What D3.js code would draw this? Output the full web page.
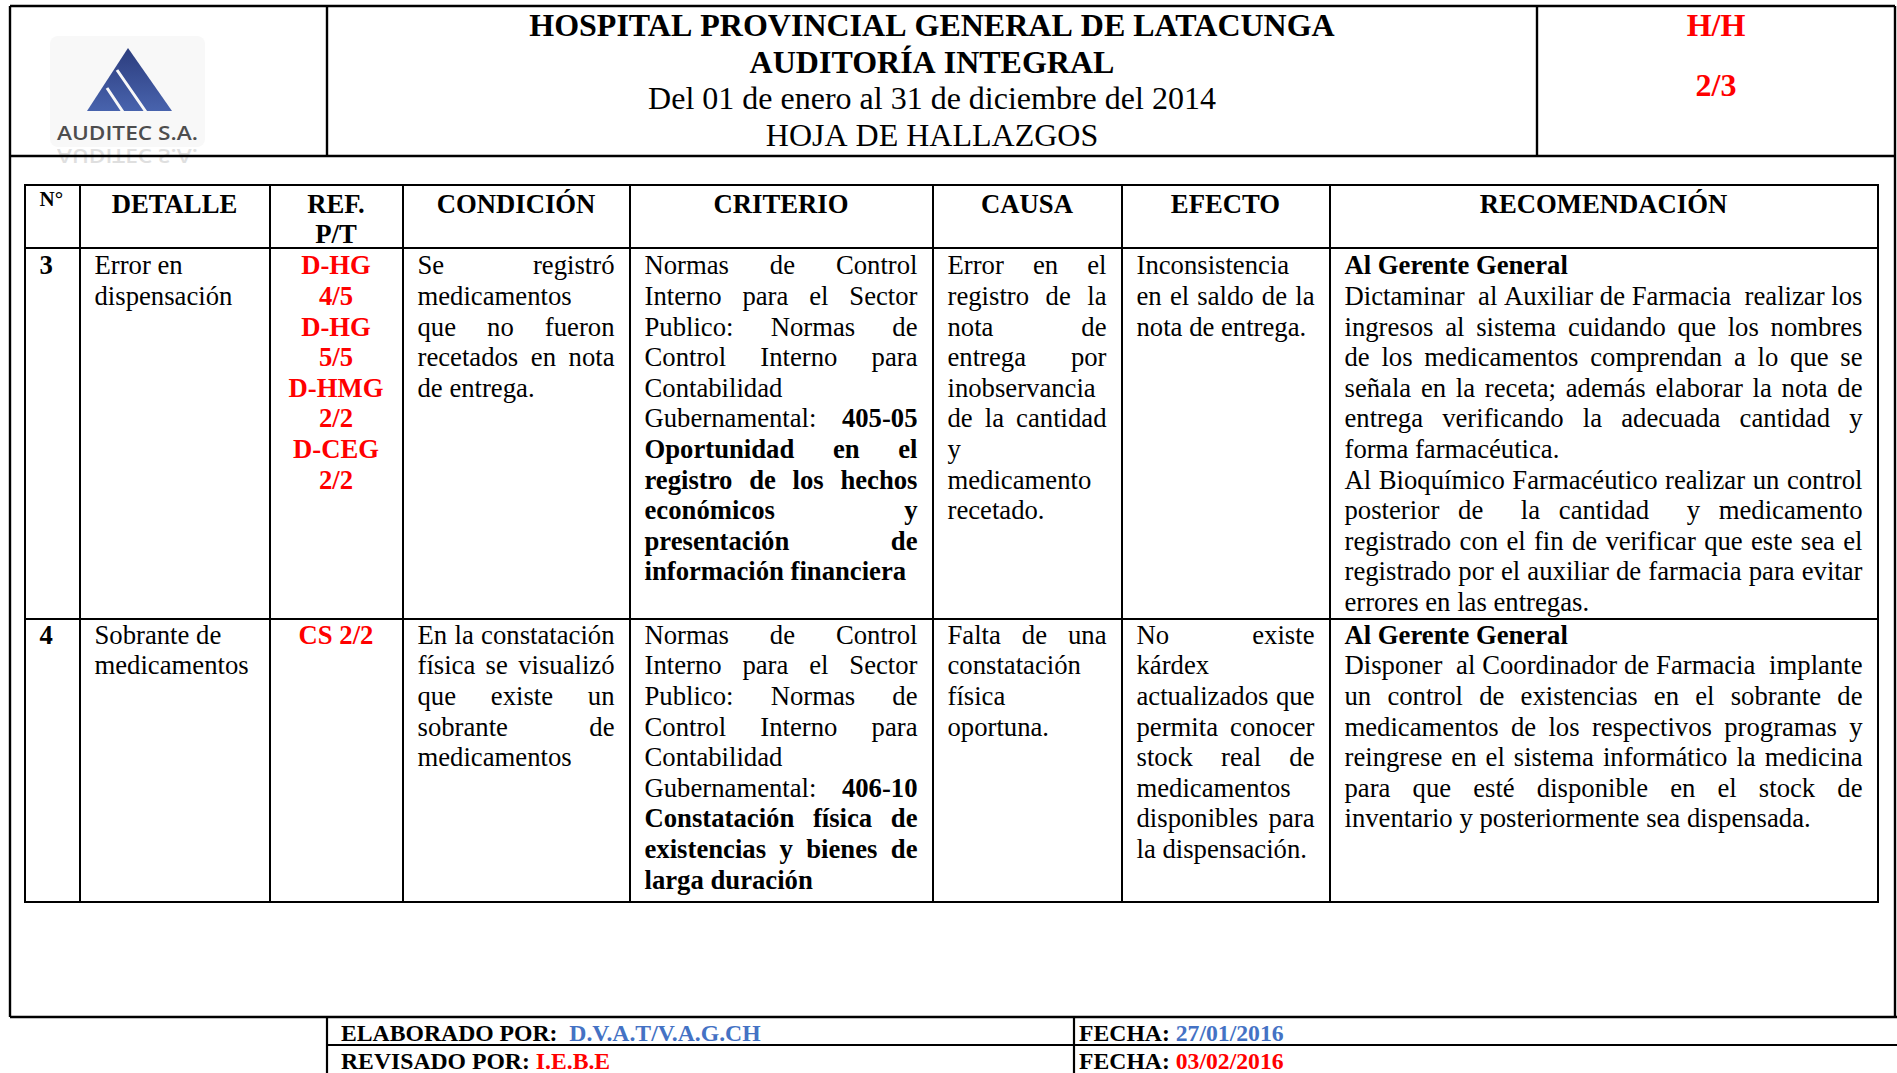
<!DOCTYPE html>
<html>
<head>
<meta charset="utf-8">
<script src="https://cdn.jsdelivr.net/npm/d3@7"></script>
<style>html,body{margin:0;padding:0;background:#fff;overflow:hidden}</style>
</head>
<body>
<svg id="c" width="1897" height="1073"></svg>
<script>
// ---------------- DATA ----------------
const titleLines = [
  "**HOSPITAL PROVINCIAL GENERAL DE LATACUNGA**",
  "**AUDITORÍA INTEGRAL**",
  "Del 01 de enero al 31 de diciembre del 2014",
  "HOJA DE HALLAZGOS"
];
const pageCode = ["H/H", "2/3"];
const logoText = "AUDITEC S.A.";
const headers = [["N°"], ["DETALLE"], ["REF.", "P/T"], ["CONDICIÓN"], ["CRITERIO"], ["CAUSA"], ["EFECTO"], ["RECOMENDACIÓN"]];
const findingNumbers = ["3", "4"];
const detalle = [
  [["Error en", "dispensación"]],
  [["Sobrante de", "medicamentos"]]
];
const refs = [
  ["D-HG", "4/5", "D-HG", "5/5", "D-HMG", "2/2", "D-CEG", "2/2"],
  ["CS 2/2"]
];
const condicion = [
  [["Se registró", "medicamentos", "que no fueron", "recetados en nota", "de entrega."]],
  [["En la constatación", "física se visualizó", "que existe un", "sobrante de", "medicamentos"]]
];
const criterio = [
  [["Normas de Control", "Interno para el Sector", "Publico: Normas de", "Control Interno para", "Contabilidad",
    "Gubernamental: **405-05**", "**Oportunidad en el**", "**registro de los hechos**", "**económicos y**",
    "**presentación de**", "**información financiera**"]],
  [["Normas de Control", "Interno para el Sector", "Publico: Normas de", "Control Interno para", "Contabilidad",
    "Gubernamental: **406-10**", "**Constatación física de**", "**existencias y bienes de**", "**larga duración**"]]
];
const causa = [
  [["Error en el", "registro de la", "nota de", "entrega por", "inobservancia", "de la cantidad", "y", "medicamento", "recetado."]],
  [["Falta de una", "constatación", "física", "oportuna."]]
];
const efecto = [
  [["Inconsistencia", "en el saldo de la", "nota de entrega."]],
  [["No existe", "kárdex", "actualizados que", "permita conocer", "stock real de", "medicamentos", "disponibles para", "la dispensación."]]
];
const recomendacion = [
  [["**Al Gerente General**"],
   ["Dictaminar  al Auxiliar de Farmacia  realizar los", "ingresos al sistema cuidando que los nombres",
    "de los medicamentos comprendan a lo que se", "señala en la receta; además elaborar la nota de",
    "entrega verificando la adecuada cantidad y", "forma farmacéutica."],
   ["Al Bioquímico Farmacéutico realizar un control", "posterior de  la cantidad  y medicamento",
    "registrado con el fin de verificar que este sea el", "registrado por el auxiliar de farmacia para evitar",
    "errores en las entregas."]],
  [["**Al Gerente General**"],
   ["Disponer  al Coordinador de Farmacia  implante", "un control de existencias en el sobrante de",
    "medicamentos de los respectivos programas y", "reingrese en el sistema informático la medicina",
    "para que esté disponible en el stock de", "inventario y posteriormente sea dispensada."]]
];
const footerLabels = ["ELABORADO POR:", "REVISADO POR:"];
const footerNames = ["D.V.A.T/V.A.G.CH", "I.E.B.E"];
const footerDateLabel = "FECHA:";
const footerDates = ["27/01/2016", "03/02/2016"];

// ---------------- LAYOUT ----------------
const colWidths = [55, 190, 133, 227, 303, 189, 208, 548];
const colAlign = ["left", "left", "center", "justify", "justify", "justify", "justify", "justify"];
const FONT = "'Liberation Serif','Times New Roman',serif";
const BODY = 26.7, TITLE = 32, FOOT = 23.7, LINE = 30.6;
const RED = "#ff0000", BLUE = "#4472c4";

const svg = d3.select("#c");
const meas = svg.append("text").attr("font-family", FONT).attr("x", -2000).attr("y", -2000).attr("visibility", "hidden");
function textW(t, bold, size) {
  meas.attr("font-size", size).attr("font-weight", bold ? 700 : 400).text(t);
  return meas.node().getComputedTextLength();
}
function parseLine(s) {
  const parts = s.split("**");
  const words = []; let pending = 0;
  parts.forEach((p, i) => {
    const bold = i % 2 === 1;
    const re = /( +)|([^ ]+)/g; let m;
    while ((m = re.exec(p))) {
      if (m[1]) pending += m[1].length;
      else { words.push({ t: m[2], bold, gap: words.length ? pending : 0 }); pending = 0; }
    }
  });
  return words;
}
function drawLine(g, s, o) {
  const size = o.size || BODY;
  const words = parseLine(s);
  const widths = words.map(w => textW(w.t, w.bold, size));
  const nSp = d3.sum(words, w => w.gap);
  let unit = 0.25 * size;
  const natural = d3.sum(widths) + nSp * unit;
  let x;
  if (o.align === "justify" && nSp > 0) { unit = (o.x1 - o.x0 - d3.sum(widths)) / nSp; x = o.x0; }
  else if (o.align === "center") x = (o.x0 + o.x1) / 2 - natural / 2;
  else x = o.x0;
  words.forEach((w, i) => {
    x += w.gap * unit;
    g.append("text").attr("x", x).attr("y", o.y)
      .attr("font-family", FONT).attr("font-size", size)
      .attr("font-weight", w.bold ? 700 : 400)
      .attr("fill", o.color || "#000").text(w.t);
    x += widths[i];
  });
}

// ---------------- HEADER BLOCK ----------------
const gHead = svg.append("g");
const defs = svg.append("defs");
const grad = defs.append("linearGradient").attr("id", "lg").attr("x1", 0).attr("y1", 0).attr("x2", 0).attr("y2", 1);
grad.append("stop").attr("offset", "0%").attr("stop-color", "#2c3d7e");
grad.append("stop").attr("offset", "100%").attr("stop-color", "#4863ad");
gHead.append("rect").attr("x", 50).attr("y", 36).attr("width", 155).attr("height", 111).attr("rx", 8).attr("fill", "#f8f8f8");
gHead.append("path").attr("d", "M128,48 L172,111 L87,111 Z").attr("fill", "url(#lg)");
gHead.append("path").attr("d", "M117,70 L146,112 M107,88 L123,112").attr("stroke", "#f8f8f8").attr("stroke-width", 3).attr("fill", "none");
gHead.append("text").attr("x", 57).attr("y", 140).attr("font-family", "'Open Sans','Liberation Sans',sans-serif")
  .attr("font-size", 19).attr("font-weight", 600).attr("fill", "#4d4d4d")
  .attr("textLength", 141).attr("lengthAdjust", "spacingAndGlyphs").text(logoText);
gHead.append("text").attr("x", 57).attr("y", 140).attr("font-family", "'Open Sans','Liberation Sans',sans-serif")
  .attr("font-size", 19).attr("font-weight", 600).attr("fill", "#999").attr("opacity", 0.3)
  .attr("textLength", 141).attr("lengthAdjust", "spacingAndGlyphs")
  .attr("transform", "translate(0,289) scale(1,-1)").text(logoText);

titleLines.forEach((t, i) => drawLine(gHead, t, { x0: 327, x1: 1537, y: 36 + i * 36.7, size: TITLE, align: "center" }));
pageCode.forEach((t, i) => drawLine(gHead, "**" + t + "**", { x0: 1537, x1: 1895, y: [36, 95.5][i], size: TITLE, align: "center", color: RED }));

const frame = [
  [10, 6, 1895, 6], [10, 6, 10, 1017], [1895, 6, 1895, 1017], [10, 156, 1895, 156],
  [327, 6, 327, 156], [1537, 6, 1537, 156], [10, 1017, 1897, 1017]
];
svg.append("g").selectAll("line").data(frame).join("line")
  .attr("x1", d => d[0]).attr("y1", d => d[1]).attr("x2", d => d[2]).attr("y2", d => d[3])
  .attr("stroke", "#000").attr("stroke-width", 2.4);

// ---------------- TABLE ----------------
const total = d3.sum(colWidths);
const xs = d3.scaleLinear().domain([0, total]).range([25, 1878]);
const edges = [0]; colWidths.forEach(w => edges.push(edges[edges.length - 1] + w));
const colX = edges.map(e => xs(e));
const rowEdges = [185, 248, 619, 902];
const rowFirst = [26.3, 24.8];
const PADL = 14.5, PADR = 15.5;

const gT = svg.append("g");
headers.forEach((lines, c) => {
  lines.forEach((t, i) => {
    if (c === 0) drawLine(gT, "**" + t + "**", { x0: colX[c] + PADL, x1: colX[c + 1] - PADR, y: 205.5, size: 21, align: "left" });
    else drawLine(gT, "**" + t + "**", { x0: colX[c] + PADL, x1: colX[c + 1] - PADR, y: 212.5 + i * LINE, align: "center" });
  });
});
findingNumbers.forEach((n, r) => {
  const cells = [
    [["**" + n + "**"]], detalle[r], [refs[r].map(s => "**" + s + "**")],
    condicion[r], criterio[r], causa[r], efecto[r], recomendacion[r]
  ];
  const top = rowEdges[r + 1];
  cells.forEach((paras, c) => {
    let li = 0;
    paras.forEach(para => {
      para.forEach((t, i) => {
        const last = i === para.length - 1;
        let align = colAlign[c];
        if (align === "justify" && last) align = "left";
        drawLine(gT, t, {
          x0: colX[c] + PADL, x1: colX[c + 1] - PADR, y: top + rowFirst[r] + li * LINE,
          align, color: c === 2 ? RED : "#000"
        });
        li++;
      });
    });
  });
});
const grid = [];
rowEdges.forEach(y => grid.push([colX[0], y, colX[colX.length - 1], y]));
colX.forEach(x => grid.push([x, rowEdges[0], x, rowEdges[rowEdges.length - 1]]));
gT.append("g").selectAll("line").data(grid).join("line")
  .attr("x1", d => d[0]).attr("y1", d => d[1]).attr("x2", d => d[2]).attr("y2", d => d[3])
  .attr("stroke", "#000").attr("stroke-width", 2).attr("stroke-linecap", "square");

// ---------------- FOOTER ----------------
const gF = svg.append("g");
const fl = [[327, 1045, 1897, 1045], [327, 1017, 327, 1073], [1074, 1017, 1074, 1073]];
gF.selectAll("line").data(fl).join("line")
  .attr("x1", d => d[0]).attr("y1", d => d[1]).attr("x2", d => d[2]).attr("y2", d => d[3])
  .attr("stroke", "#000").attr("stroke-width", 2.2);
const footColors = [BLUE, RED];
footerLabels.forEach((lab, i) => {
  const y = 1041 + i * 28;
  const t = gF.append("text").attr("x", 341).attr("y", y).attr("font-family", FONT).attr("font-size", FOOT)
    .attr("font-weight", 700).attr("xml:space", "preserve");
  t.append("tspan").attr("fill", "#000").text(lab + (i === 0 ? "  " : " "));
  t.append("tspan").attr("fill", footColors[i]).text(footerNames[i]);
  const t2 = gF.append("text").attr("x", 1079).attr("y", y).attr("font-family", FONT).attr("font-size", FOOT)
    .attr("font-weight", 700).attr("xml:space", "preserve");
  t2.append("tspan").attr("fill", "#000").text(footerDateLabel + " ");
  t2.append("tspan").attr("fill", footColors[i]).text(footerDates[i]);
});
meas.remove();
</script>
</body>
</html>
